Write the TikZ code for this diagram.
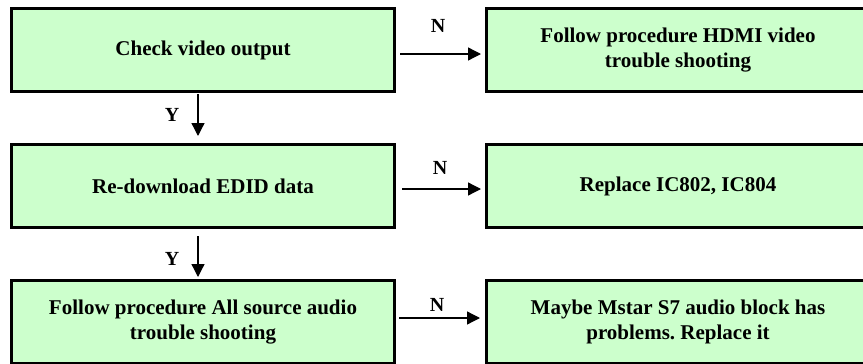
\documentclass[tikz,border=0pt]{standalone}
\usepackage{fontspec}
\setmainfont{Liberation Serif}
\usetikzlibrary{arrows.meta}
\definecolor{boxgreen}{HTML}{CCFFCC}
\frenchspacing
\begin{document}
\begin{tikzpicture}[x=1pt,y=-1pt,
  flowbox/.style={draw=black,line width=3pt,fill=boxgreen,minimum width=383pt,minimum height=83pt,
    inner sep=0pt,align=center,font=\fontsize{21}{25}\selectfont\bfseries},
  arr/.style={line width=1.3pt,-{Triangle[length=13pt,width=13pt]}},
  lbl/.style={font=\fontsize{20}{22}\selectfont\bfseries}]
\useasboundingbox (0,0) rectangle (863,364);
\node[flowbox] (a1) at (203,50) {Check video output};
\node[flowbox] (b1) at (678,50) {Follow procedure HDMI video\\trouble shooting};
\node[flowbox] (a2) at (203,186) {Re-download EDID data};
\node[flowbox] (b2) at (678,186) {Replace IC802, IC804};
\node[flowbox] (a3) at (203,322) {Follow procedure All source audio\\trouble shooting};
\node[flowbox] (b3) at (678,322) {Maybe Mstar S7 audio block has\\problems. Replace it};
\draw[arr,shorten <=4pt,shorten >=4pt] ([yshift=-4]a1.east) -- ([yshift=-4]b1.west);
\draw[arr,shorten <=6pt,shorten >=4pt] ([yshift=-3]a2.east) -- ([yshift=-3]b2.west);
\draw[arr,shorten <=3pt,shorten >=5pt] ([yshift=4]a3.east) -- ([yshift=4]b3.west);
\draw[arr,shorten <=1pt,shorten >=7pt] ([xshift=-5]a1.south) -- ([xshift=-5]a2.north);
\draw[arr,shorten <=7pt,shorten >=2pt] ([xshift=-5]a2.south) -- ([xshift=-5]a3.north);
\node[lbl] (n1) at (438,26) {N};
\node[lbl] (n2) at (440,168) {N};
\node[lbl] (n3) at (437,305) {N};
\node[lbl] (y1) at (172,115) {Y};
\node[lbl] (y2) at (172,259) {Y};
\end{tikzpicture}
\end{document}
